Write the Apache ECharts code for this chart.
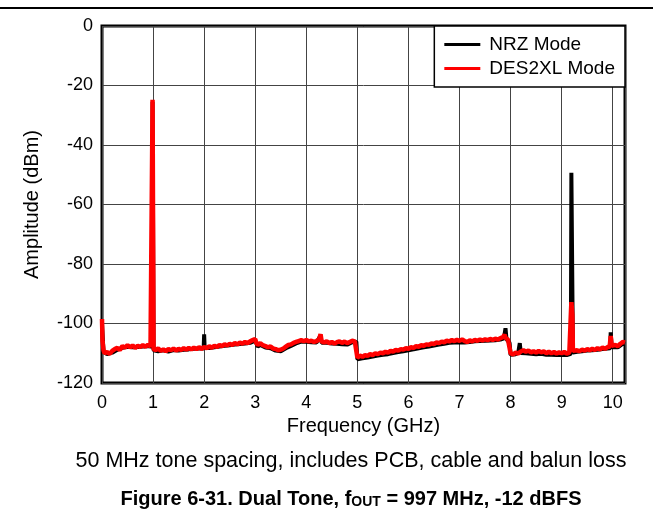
<!DOCTYPE html>
<html><head><meta charset="utf-8">
<script src="https://cdn.jsdelivr.net/npm/echarts@6/dist/echarts.min.js"></script>
<style>html,body{margin:0;padding:0;background:#fff}#c{width:653px;height:517px}</style>
</head><body><div id="c"></div>
<script>
// Axis ticks
const xTickValues = [0,1,2,3,4,5,6,7,8,9,10];
const yTickValues = [0,-20,-40,-60,-80,-100,-120];
const seriesNames = ['NRZ Mode','DES2XL Mode'];

// NRZ Mode (black)
const nrzFreq = [0,0.03,0.1,0.2,0.3,0.4,0.5,0.6,0.7,0.8,0.9,0.985,0.99,1.005,1.01,1.1,1.2,1.3,1.4,1.5,1.6,1.7,1.8,1.9,1.99,2.0,2.01,2.1,2.2,2.3,2.4,2.5,2.6,2.7,2.8,2.9,3.0,3.05,3.1,3.2,3.3,3.4,3.5,3.6,3.7,3.8,3.9,4.0,4.1,4.2,4.28,4.3,4.4,4.5,4.6,4.7,4.8,4.9,4.98,5.0,5.1,5.2,5.3,5.4,5.5,5.6,5.7,5.8,5.9,6.0,6.1,6.2,6.3,6.4,6.5,6.6,6.7,6.8,6.9,7.0,7.1,7.2,7.3,7.4,7.5,7.6,7.7,7.8,7.87,7.9,7.92,7.98,8.0,8.1,8.15,8.18,8.2,8.3,8.4,8.5,8.6,8.7,8.8,8.9,9.0,9.1,9.18,9.19,9.21,9.22,9.3,9.4,9.5,9.6,9.7,9.8,9.9,9.95,9.96,9.975,9.98,10.1,10.2,10.24];
const nrzAmp = [-100,-109.5,-110.3,-109.8,-108.8,-108.2,-107.8,-108.0,-107.9,-107.7,-107.6,-107.8,-25.5,-25.5,-109,-109.3,-109.0,-109.4,-108.9,-109.1,-108.8,-108.7,-108.5,-108.4,-108.4,-103.6,-108.2,-108.2,-108.0,-107.7,-107.5,-107.3,-107.1,-106.9,-106.7,-106.5,-105.8,-107.8,-107.2,-108.1,-108.3,-109.1,-109.3,-108.3,-107.5,-106.7,-106.1,-106.1,-106.3,-106.4,-104.0,-106.5,-106.5,-106.7,-106.8,-107.0,-107.1,-106.3,-106.1,-112.0,-111.7,-111.4,-111.1,-110.8,-110.5,-110.3,-109.9,-109.6,-109.3,-109.0,-108.7,-108.3,-108.0,-107.7,-107.4,-107.1,-106.8,-106.5,-106.4,-106.3,-106.4,-106.2,-106.0,-105.9,-105.8,-105.7,-105.6,-105.4,-105.0,-101.6,-105.3,-106.5,-110.5,-110.3,-109.8,-106.6,-109.9,-110.0,-110.2,-110.3,-110.2,-110.5,-110.5,-110.6,-110.5,-110.6,-110.2,-49.3,-49.3,-109.8,-109.5,-109.3,-109.1,-109.0,-108.8,-108.6,-108.4,-108.3,-103.0,-103.0,-108.0,-108.0,-106.8,-106.9];

// DES2XL Mode (red)
const desFreq = [0,0.01,0.03,0.05,0.1,0.15,0.2,0.25,0.3,0.35,0.4,0.45,0.5,0.55,0.6,0.65,0.7,0.75,0.8,0.85,0.9,0.95,0.985,0.99,1.005,1.01,1.05,1.1,1.15,1.2,1.25,1.3,1.35,1.4,1.45,1.5,1.55,1.6,1.65,1.7,1.75,1.8,1.85,1.9,1.95,2.0,2.05,2.1,2.15,2.2,2.25,2.3,2.35,2.4,2.45,2.5,2.55,2.6,2.65,2.7,2.75,2.8,2.85,2.9,2.95,3.0,3.02,3.05,3.1,3.15,3.2,3.25,3.3,3.35,3.4,3.45,3.5,3.55,3.6,3.65,3.7,3.75,3.8,3.85,3.9,3.95,4.0,4.05,4.1,4.15,4.2,4.25,4.28,4.3,4.35,4.4,4.45,4.5,4.55,4.6,4.65,4.7,4.75,4.8,4.85,4.9,4.95,4.98,5.0,5.03,5.05,5.1,5.15,5.2,5.25,5.3,5.35,5.4,5.45,5.5,5.55,5.6,5.65,5.7,5.75,5.8,5.85,5.9,5.95,6.0,6.05,6.1,6.15,6.2,6.25,6.3,6.35,6.4,6.45,6.5,6.55,6.6,6.65,6.7,6.75,6.8,6.85,6.9,6.95,7.0,7.05,7.1,7.15,7.2,7.25,7.3,7.35,7.4,7.45,7.5,7.55,7.6,7.65,7.7,7.75,7.8,7.85,7.88,7.9,7.95,7.98,8.0,8.05,8.1,8.15,8.2,8.25,8.3,8.35,8.4,8.45,8.5,8.55,8.6,8.65,8.7,8.75,8.8,8.85,8.9,8.95,9.0,9.05,9.1,9.15,9.18,9.19,9.205,9.21,9.22,9.25,9.3,9.35,9.4,9.45,9.5,9.55,9.6,9.65,9.7,9.75,9.8,9.85,9.9,9.94,9.96,9.975,9.98,10.0,10.05,10.1,10.15,10.2,10.24];
const desAmp = [-98.5,-106,-109,-110,-109.6,-110.2,-109.2,-108.6,-108.2,-108.9,-107.6,-108.1,-107.3,-108.0,-107.4,-108.2,-107.5,-107.9,-107.3,-107.8,-107.2,-107.6,-107.4,-24.8,-24.8,-108.6,-108.9,-108.4,-109.2,-108.7,-109.3,-108.6,-109.0,-108.4,-109.1,-108.5,-108.9,-108.3,-108.8,-108.2,-108.7,-108.1,-108.6,-108.0,-108.5,-107.9,-108.3,-107.7,-108.1,-107.5,-107.9,-107.2,-107.6,-107.0,-107.4,-106.8,-107.2,-106.6,-107.0,-106.4,-106.8,-106.2,-106.6,-106.0,-105.6,-105.2,-106.5,-107.2,-106.6,-107.3,-107.6,-108.0,-107.7,-108.4,-108.6,-109.0,-108.8,-108.4,-107.8,-107.2,-107.0,-106.5,-106.2,-105.9,-105.6,-105.9,-105.6,-106.0,-105.8,-106.2,-105.9,-105.4,-103.6,-106.0,-106.4,-106.0,-106.6,-106.2,-106.7,-106.3,-106.0,-106.5,-106.1,-106.6,-106.2,-105.8,-106.0,-105.6,-111.5,-112,-110.8,-111.2,-110.6,-110.9,-110.3,-110.6,-110.0,-110.3,-109.8,-110.0,-109.5,-109.8,-109.2,-109.4,-108.9,-109.1,-108.6,-108.8,-108.3,-108.5,-108.0,-108.2,-107.6,-107.8,-107.3,-107.5,-107.0,-107.2,-106.7,-106.9,-106.4,-106.6,-106.1,-106.3,-105.8,-106.0,-105.6,-105.9,-105.5,-105.8,-105.4,-105.9,-106.2,-105.7,-106.0,-105.5,-105.8,-105.4,-105.7,-105.3,-105.6,-105.2,-105.5,-105.1,-105.4,-104.9,-104.6,-103.8,-104.8,-105.5,-106.0,-110.0,-110.4,-109.8,-110.1,-109.4,-109.0,-109.5,-109.1,-109.7,-109.3,-109.8,-109.2,-109.7,-109.4,-110.0,-109.5,-110.0,-109.6,-110.1,-109.7,-110.0,-109.6,-110.1,-109.8,-109.6,-92.8,-92.8,-97,-109.2,-109.5,-109.0,-109.3,-108.8,-109.1,-108.6,-109.0,-108.5,-108.9,-108.3,-108.7,-108.1,-108.5,-107.9,-107.8,-104.2,-104.2,-107.5,-107.8,-107.2,-107.6,-106.8,-106.2,-106.4];

const FONT = "'Liberation Sans', Arial, Helvetica, sans-serif";
const chart = echarts.init(document.getElementById('c'), null, {renderer:'canvas'});
const pair = (f,a) => f.map((v,i)=>[v,a[i]]);

chart.setOption({
  animation:false,
  backgroundColor:'#fff',
  grid:{left:102, top:26, right:28, bottom:134, show:true, borderColor:'#000', borderWidth:3, backgroundColor:'transparent'},
  xAxis:{type:'value', min:0, max:10.24, interval:1,
    name:'Frequency (GHz)', nameLocation:'middle', nameGap:31,
    nameTextStyle:{fontFamily:FONT, fontSize:20, color:'#000'},
    axisLine:{show:false}, axisTick:{show:false},
    axisLabel:{margin:11, fontFamily:FONT, fontSize:18, color:'#000',
      customValues:xTickValues, formatter:v=>String(v)},
    splitLine:{show:true, lineStyle:{color:'#444', width:1}}},
  yAxis:{type:'value', min:-120, max:0, interval:20,
    name:'Amplitude (dBm)', nameLocation:'middle', nameGap:60, nameRotate:90,
    nameTextStyle:{fontFamily:FONT, fontSize:20, color:'#000'},
    axisLine:{show:false}, axisTick:{show:false},
    axisLabel:{margin:9, fontFamily:FONT, fontSize:18, color:'#000'},
    splitLine:{show:true, lineStyle:{color:'#444', width:1}}},
  legend:{right:28, top:26, orient:'vertical', backgroundColor:'#fff', borderColor:'#000', borderWidth:1.5,
    padding:[9,10,9,10], itemGap:5, icon:'rect', itemWidth:36, itemHeight:3,
    textStyle:{fontFamily:FONT, fontSize:19, color:'#000', padding:[0,0,0,4]},
    data:seriesNames},
  series:[
    {name:seriesNames[0], type:'line', data:pair(nrzFreq,nrzAmp), showSymbol:false, symbol:'none',
     lineStyle:{color:'#000', width:4}, itemStyle:{color:'#000'}, z:2},
    {name:seriesNames[1], type:'line', data:pair(desFreq,desAmp), showSymbol:false, symbol:'none',
     lineStyle:{color:'#ff0000', width:4.5}, itemStyle:{color:'#ff0000'}, z:3}
  ],
  graphic:[
    {type:'line', shape:{x1:0,y1:8,x2:653,y2:8}, style:{stroke:'#000', lineWidth:2}, silent:true},
    {type:'text', x:351, y:450, style:{text:'50 MHz tone spacing, includes PCB, cable and balun loss', font:"21.5px 'Liberation Sans', Arial", fill:'#000', align:'center', textAlign:'center'}},
    {type:'text', x:351, y:488, style:{
      align:'center', textAlign:'center',
      text:'{b|Figure 6-31. Dual Tone, f}{s|OUT}{b| = 997 MHz, -12 dBFS}',
      rich:{b:{fontFamily:FONT, fontSize:20, fontWeight:'bold', fill:'#000', verticalAlign:'bottom'},
            s:{fontFamily:FONT, fontSize:14, fontWeight:'bold', fill:'#000', padding:[7,0,0,0], verticalAlign:'bottom'}}}}
  ]
});
</script></body></html>
